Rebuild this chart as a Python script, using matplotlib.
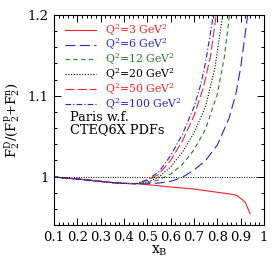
import matplotlib
matplotlib.use("Agg")
import matplotlib.pyplot as plt
from matplotlib.ticker import MultipleLocator, FixedLocator

plt.rcParams['font.family'] = ['DejaVu Serif']
plt.rcParams['mathtext.fontset'] = 'dejavuserif'

# common low-x part (all Q^2 nearly identical)
x_low = [0.10, 0.15, 0.20, 0.25, 0.30, 0.35, 0.40, 0.45]
y_low = [0.9995, 0.998, 0.997, 0.9955, 0.994, 0.9925, 0.9915, 0.9912]

# Q^2 = 3 GeV^2
x_q3 = x_low + [0.50, 0.60, 0.70, 0.80, 0.85, 0.88, 0.90, 0.91, 0.92, 0.93, 0.94]
y_q3 = y_low + [0.990, 0.987, 0.9845, 0.9805, 0.9785, 0.977, 0.973, 0.9705, 0.968, 0.961, 0.954]

# Q^2 = 6 GeV^2
x_q6 = x_low + [0.50, 0.55, 0.60, 0.65, 0.70, 0.75, 0.80, 0.85, 0.88, 0.90, 0.92, 0.93]
y_q6 = y_low + [0.991, 0.992, 0.994, 0.999, 1.008, 1.020, 1.039, 1.072, 1.103, 1.135, 1.178, 1.2]

# Q^2 = 12 GeV^2
x_q12 = x_low + [0.50, 0.55, 0.60, 0.65, 0.70, 0.75, 0.80, 0.83, 0.852]
y_q12 = y_low + [0.992, 0.996, 1.003, 1.015, 1.033, 1.059, 1.102, 1.148, 1.2]

# Q^2 = 20 GeV^2
x_q20 = x_low + [0.50, 0.55, 0.60, 0.65, 0.70, 0.75, 0.79, 0.823]
y_q20 = y_low + [0.993, 0.9995, 1.012, 1.030, 1.054, 1.087, 1.135, 1.2]

# Q^2 = 50 GeV^2
x_q50 = x_low + [0.50, 0.55, 0.60, 0.65, 0.70, 0.74, 0.77, 0.795]
y_q50 = y_low + [0.995, 1.003, 1.020, 1.044, 1.075, 1.110, 1.148, 1.2]

# Q^2 = 100 GeV^2
x_q100 = x_low + [0.50, 0.55, 0.60, 0.65, 0.70, 0.73, 0.75, 0.783]
y_q100 = y_low + [0.996, 1.006, 1.026, 1.052, 1.086, 1.115, 1.142, 1.2]

labels = [r"Q$^2$=3 GeV$^2$", r"Q$^2$=6 GeV$^2$", r"Q$^2$=12 GeV$^2$",
          r"Q$^2$=20 GeV$^2$", r"Q$^2$=50 GeV$^2$", r"Q$^2$=100 GeV$^2$"]

fig = plt.figure(figsize=(2.79, 2.79), dpi=100)
ax = fig.add_axes([54/279, 54/279, 210/279, 210/279])

lw = 0.8
ax.plot(x_q3, y_q3, color='#ff2020', lw=lw, ls='-', label=labels[0])
ax.plot(x_q6, y_q6, color='#2020ff', lw=lw, ls=(0, (9, 4)), label=labels[1])
ax.plot(x_q12, y_q12, color='#208020', lw=lw, ls=(0, (4, 3)), label=labels[2])
ax.plot(x_q20, y_q20, color='black', lw=lw, ls=(0, (1, 1.5)), label=labels[3])
ax.plot(x_q50, y_q50, color='#ff2020', lw=lw, ls=(0, (8, 3)), label=labels[4])
ax.plot(x_q100, y_q100, color='#2020ff', lw=lw, ls=(0, (5, 2, 1, 2)), label=labels[5])
ax.axhline(1.0, color='black', lw=0.7, ls=(0, (1, 1.5)))

ax.set_xlim(0.1, 1.0)
ax.set_ylim(0.94, 1.2)
ax.xaxis.set_major_locator(FixedLocator([0.1, 0.2, 0.3, 0.4, 0.5, 0.6, 0.7, 0.8, 0.9, 1.0]))
ax.xaxis.set_minor_locator(MultipleLocator(0.02))
ax.yaxis.set_major_locator(FixedLocator([1.0, 1.1, 1.2]))
ax.yaxis.set_minor_locator(MultipleLocator(0.02))
ax.set_xticklabels(['0.1', '0.2', '0.3', '0.4', '0.5', '0.6', '0.7', '0.8', '0.9', '1'])
ax.set_yticklabels(['1', '1.1', '1.2'])
ax.tick_params(which='both', direction='in', top=True, right=True, labelsize=9.5, pad=4)
ax.tick_params(which='major', length=5, width=0.7)
ax.tick_params(which='minor', length=2.5, width=0.7)
for s in ax.spines.values():
    s.set_linewidth(0.8)

ax.set_xlabel(r"x$_{\rm B}$", fontsize=10, labelpad=0)
ax.set_ylabel(r"F$_2^{\rm D}$/(F$_2^{\rm p}$+F$_2^{\rm n}$)", fontsize=9.5, labelpad=4)

leg = ax.legend(loc='upper left', bbox_to_anchor=(0.052, 0.968), frameon=False,
                fontsize=7.8, handlelength=2.9, handletextpad=0.8,
                labelspacing=-0.09, borderaxespad=0, borderpad=0,
                labelcolor='linecolor')

ax.text(0.077, 0.514, "Paris w.f.", transform=ax.transAxes, fontsize=9.3, va='center')
ax.text(0.077, 0.452, "CTEQ6X PDFs", transform=ax.transAxes, fontsize=9.3, va='center')

fig.savefig("out.png", dpi=100)
